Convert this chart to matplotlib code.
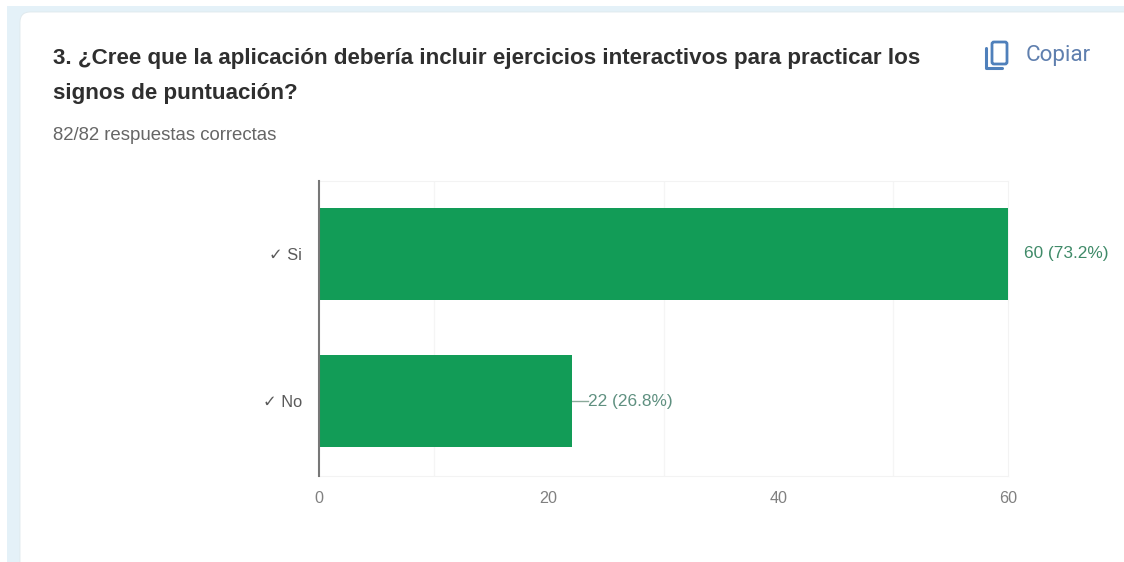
import matplotlib
matplotlib.use('Agg')
import matplotlib.pyplot as plt
from matplotlib.patches import FancyBboxPatch

# Datos
categorias = ['✓ Si', '✓ No']
respuestas = [60, 22]
etiquetas = ['60 (73.2%)', '22 (26.8%)']
ticks_x = [0, 20, 40, 60]
grid_x = [10, 20, 30, 40, 50, 60]

titulo_1 = '3. ¿Cree que la aplicación debería incluir ejercicios interactivos para practicar los'
titulo_2 = 'signos de puntuación?'
subtitulo = '82/82 respuestas correctas'

plt.rcParams['font.family'] = ['Liberation Sans', 'DejaVu Sans']

W, H = 1124, 562
fig = plt.figure(figsize=(W / 100, H / 100), dpi=100, facecolor='white')

# Fondo de la tarjeta, en pixeles
bg = fig.add_axes([0, 0, 1, 1])
bg.set_xlim(0, W)
bg.set_ylim(H, 0)
bg.axis('off')
bg.add_patch(plt.Rectangle((7, 6), W - 7, H - 6, fc='#e4f1f8', ec='none'))
bg.add_patch(FancyBboxPatch((30, 22), W + 40, H, boxstyle='round,pad=10,rounding_size=10',
                            fc='white', ec='#dfe8ec', lw=0.6))

bg.text(53, 58.5, titulo_1, fontsize=16.1, fontweight='bold', color='#2f2f2f', va='center')
bg.text(53, 93, titulo_2, fontsize=16.1, fontweight='bold', color='#2f2f2f', va='center')
bg.text(53, 135, subtitulo, fontsize=13.4, color='#666666', va='center')

# Icono de copiar
azul = '#4f80bb'
bg.add_patch(FancyBboxPatch((992, 42), 15, 22, boxstyle='round,pad=0,rounding_size=2',
                            fc='white', ec=azul, lw=2))
bg.plot([986, 986, 1002], [48, 68, 68], color=azul, lw=2.2, solid_capstyle='round',
        solid_joinstyle='round')
bg.text(1026, 55, 'Copiar', family=['Roboto', 'DejaVu Sans'], fontsize=16.2,
        color='#5f7fae', va='center')

# Grafica de barras
ax = fig.add_axes([319 / W, 1 - 476 / H, (1008 - 319) / W, (476 - 181) / H])
ax.patch.set_alpha(0)
ax.barh(categorias, respuestas, height=0.625, color='#129c57', zorder=3)
ax.set_xlim(0, 60)
ax.set_ylim(1.507, -0.493)
ax.set_xticks(ticks_x)
ax.set_xticks(grid_x, minor=True)
ax.grid(True, axis='x', which='minor', color='#f5f5f5', lw=1)
ax.tick_params(axis='both', which='both', length=0)
ax.tick_params(axis='x', labelsize=11.6, labelcolor='#808080', pad=11)
ax.tick_params(axis='y', labelsize=11.8, labelcolor='#5a5a5a', pad=12)

for lado in ['top', 'right', 'bottom']:
    ax.spines[lado].set_color('#f3f3f3')
ax.spines['left'].set_color('#777777')
ax.spines['left'].set_linewidth(1.5)
ax.spines['left'].set_zorder(4)

# Etiquetas de valor; la de 22 lleva una linea guia hasta la barra
ax.text(respuestas[0] + 1.4, 0, etiquetas[0], color='#3f8a68', fontsize=12.4, va='center')
ax.plot([respuestas[1], respuestas[1] + 1.4], [1, 1], color='#8aa99a', lw=1, zorder=2)
ax.text(respuestas[1] + 1.4, 1, etiquetas[1], color='#5f9080', fontsize=12.4, va='center')

fig.savefig('out.png', dpi=100)
